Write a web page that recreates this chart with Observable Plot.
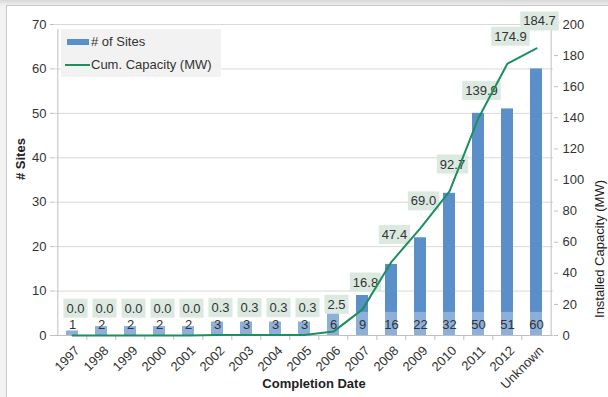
<!DOCTYPE html>
<html><head><meta charset="utf-8">
<script src="https://cdn.jsdelivr.net/npm/d3@7"></script>
<script src="https://cdn.jsdelivr.net/npm/@observablehq/plot@0.6"></script>
<style>
body{margin:0;background:#eeeeee;font-family:"Liberation Sans",Arial,sans-serif;}
#wrap{position:relative;width:608px;height:397px;overflow:hidden;background:linear-gradient(#d8d8d8,#f2f2f2 6px,#f2f2f2);}
#frame{position:absolute;left:6px;top:5px;width:640px;height:420px;background:#fff;border:1px solid #c9c9c9;}
#chart{position:absolute;left:0;top:0;}
#legend{position:absolute;left:61px;top:29px;width:160px;height:48px;background:#f2f2f2;font-size:13px;color:#333;}
.item{position:absolute;left:4px;display:flex;align-items:center;white-space:nowrap;}
.sw-bar{width:22px;height:6px;background:#5b8fc9;margin-right:2px;}
.sw-line{width:25px;height:2px;background:#1b8f5d;margin-right:1px;}
</style></head>
<body>
<div id="wrap">
  <div id="frame"></div>
  <div id="chart"></div>
  <div id="legend">
    <div class="item" style="top:5px;left:6px"><span class="sw-bar"></span># of Sites</div>
    <div class="item" style="top:28px;left:4px"><span class="sw-line"></span>Cum. Capacity (MW)</div>
  </div>
</div>
<script>
const years = ["1997","1998","1999","2000","2001","2002","2003","2004","2005","2006","2007","2008","2009","2010","2011","2012","Unknown"];
const sites = [1,2,2,2,2,3,3,3,3,6,9,16,22,32,50,51,60];
const capacity = [0.0,0.0,0.0,0.0,0.0,0.3,0.3,0.3,0.3,2.5,16.8,47.4,69.0,92.7,139.9,174.9,184.7];
const siteTicks = [0,10,20,30,40,50,60,70];
const capTicks = [0,20,40,60,80,100,120,140,160,180,200];

const rows = years.map((y,i)=>({year:y, sites:sites[i], cap:capacity[i]}));
const k = 70/200;
const W=608, H=397, ml=54, mr=55, mt=24, mb=62;
const step = (W-ml-mr)/years.length;
const bounds = years.map((y,i)=>({year:y})).concat([{year:years[years.length-1]}]);

const chart = Plot.plot({
  width:W, height:H, marginLeft:ml, marginRight:mr, marginTop:mt, marginBottom:mb,
  style:{fontFamily:'"Liberation Sans",Arial,sans-serif', fontSize:"13px", color:"#333", background:"transparent", overflow:"visible"},
  x:{domain:years, paddingInner:0.6, paddingOuter:0.3, label:null},
  y:{domain:[0,70], label:null},
  marks:[
    Plot.gridY(siteTicks, {stroke:"#d9d9d9", strokeOpacity:1}),
    Plot.ruleY([0], {stroke:"#bfbfbf"}),
    Plot.ruleX(bounds.slice(1,-1), {x:"year", dx:-step/2, y1:0, y2:0, insetBottom:-5, stroke:"#bfbfbf"}),
    Plot.ruleX([bounds[0]], {x:"year", dx:-step/2, y1:0, y2:70, insetBottom:-5, stroke:"#bfbfbf"}),
    Plot.ruleX([bounds[bounds.length-1]], {x:"year", dx:step/2, y1:0, y2:70, insetBottom:-5, stroke:"#bfbfbf"}),
    Plot.axisY({ticks:siteTicks, tickSize:4, tickPadding:4, stroke:"#bfbfbf", fill:"#333", fontSize:13, label:null}),
    Plot.axisY({anchor:"right", ticks:capTicks.map(v=>v*k), tickFormat:v=>String(Math.round(v/k)), tickSize:4, tickPadding:5, stroke:"#bfbfbf", fill:"#333", fontSize:13, label:null}),
    Plot.axisX({tickRotate:-45, tickSize:0, tickPadding:13, dx:5, fill:"#333", fontSize:13, label:null}),
    Plot.barY(rows, {x:"year", y:"sites", fill:"#5b8fc9"}),
    Plot.barY(rows, {x:"year", y1:0, y2:d=>Math.min(d.sites,5.2), fill:"white", fillOpacity:0.3}),
    Plot.text(rows, {x:"year", y:0, text:d=>String(d.sites), dy:-11, fontSize:13, fill:"#333"}),
    Plot.text(rows, {x:"year", y:d=>d.cap*k, text:d=>d.cap.toFixed(1), dy:-27, dx:3, fontSize:13, fill:"#333"}),
    Plot.line(rows, {x:"year", y:d=>d.cap*k, stroke:"#1b8f5d", strokeWidth:2}),
    Plot.text(["# Sites"], {frameAnchor:"left", dx:-34, rotate:-90, fontWeight:"bold", fontSize:13, fill:"#222"}),
    Plot.text(["Installed Capacity (MW)"], {frameAnchor:"right", dx:46, rotate:-90, fontSize:13, fill:"#222"}),
    Plot.text(["Completion Date"], {frameAnchor:"bottom", dy:52, dx:10, fontWeight:"bold", fontSize:13, fill:"#222"})
  ]
});
document.getElementById("chart").appendChild(chart);

// boxes behind capacity labels
d3.select(chart).selectAll('g[aria-label="text"]').each(function(){
  const texts = Array.from(this.querySelectorAll("text"));
  if (!texts.some(t=>t.textContent==="184.7")) return;
  texts.forEach(t=>{
    const b = t.getBBox();
    const r = document.createElementNS("http://www.w3.org/2000/svg","rect");
    r.setAttribute("x", b.x-3); r.setAttribute("y", b.y-2);
    r.setAttribute("width", b.width+6); r.setAttribute("height", b.height+4);
    r.setAttribute("fill", "#dbe9e1");
    if (t.getAttribute("transform")) r.setAttribute("transform", t.getAttribute("transform"));
    this.insertBefore(r, t);
  });
});
</script>
</body></html>
